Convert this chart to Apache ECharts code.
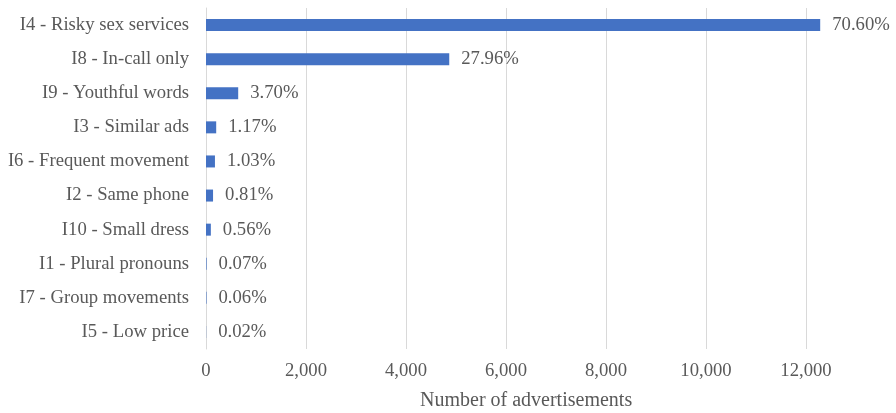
<!DOCTYPE html>
<html>
<head>
<meta charset="utf-8">
<script src="https://cdn.jsdelivr.net/npm/echarts@6/dist/echarts.min.js"></script>
<style>
  html, body { margin: 0; padding: 0; background: #ffffff; }
  #chart { width: 896px; height: 413px; }
</style>
</head>
<body>
<div id="chart"></div>
<script>
// Indicator categories, top to bottom
const categories = [
  'I4 - Risky sex services',
  'I8 - In-call only',
  'I9 - Youthful words',
  'I3 - Similar ads',
  'I6 - Frequent movement',
  'I2 - Same phone',
  'I10 - Small dress',
  'I1 - Plural pronouns',
  'I7 - Group movements',
  'I5 - Low price'
];
// Number of advertisements flagged by each indicator
const adCounts = [12284, 4865, 644, 204, 179, 141, 97, 12, 10, 3];
// Share of all advertisements, shown at the end of each bar
const shareLabels = ['70.60%', '27.96%', '3.70%', '1.17%', '1.03%', '0.81%', '0.56%', '0.07%', '0.06%', '0.02%'];
// Value axis range and ticks
const axisMax = 13800;
const axisStep = 2000;

const textColor = '#595959';
const serif = '"Liberation Serif", "Times New Roman", serif';

const chart = echarts.init(document.getElementById('chart'), null, { renderer: 'canvas' });
chart.setOption({
  animation: false,
  grid: { left: 206, right: 0, top: 8, bottom: 64, containLabel: false },
  xAxis: {
    type: 'value',
    min: 0,
    max: axisMax,
    interval: axisStep,
    axisLine: { show: false },
    axisTick: { show: false },
    splitLine: { show: true, showMaxLine: false, lineStyle: { color: '#d9d9d9', width: 1 } },
    axisLabel: {
      color: textColor,
      fontFamily: serif,
      fontSize: 18.7,
      margin: 13,
      showMaxLabel: false,
      formatter: v => v.toLocaleString('en-US')
    }
  },
  yAxis: {
    type: 'category',
    data: categories,
    inverse: true,
    axisLine: { show: true, lineStyle: { color: '#d9d9d9', width: 1 } },
    axisTick: { show: false },
    axisLabel: {
      color: textColor,
      fontFamily: serif,
      fontSize: 18.7,
      margin: 17
    }
  },
  series: [{
    type: 'bar',
    data: adCounts,
    barWidth: 12,
    itemStyle: { color: '#4472C4' },
    label: {
      show: true,
      position: 'right',
      distance: 12,
      color: textColor,
      fontFamily: serif,
      fontSize: 18.7,
      formatter: p => shareLabels[p.dataIndex]
    }
  }],
  graphic: [{
    type: 'text',
    left: 420,
    top: 391,
    style: {
      text: 'Number of advertisements',
      fill: textColor,
      font: '20px ' + serif
    }
  }]
});
</script>
</body>
</html>
